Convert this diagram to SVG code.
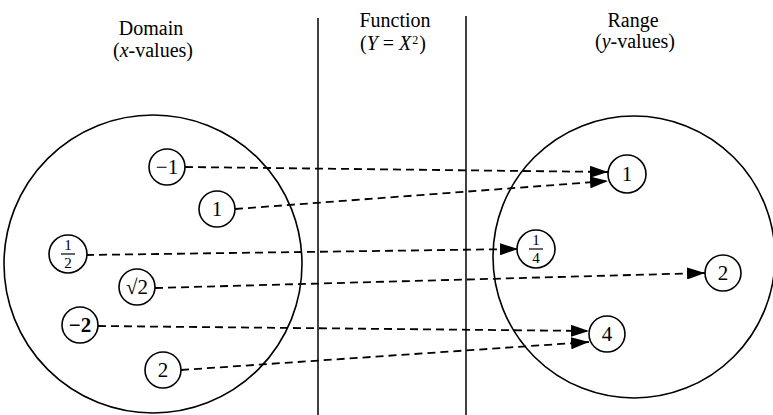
<svg xmlns="http://www.w3.org/2000/svg" width="773" height="415" viewBox="0 0 773 415">
<defs>
<marker id="ah" markerWidth="18" markerHeight="12" refX="18" refY="6" orient="auto" markerUnits="userSpaceOnUse">
<path d="M0,0 L18,6 L0,12 Z" fill="#000"/>
</marker>
<style>
text{font-family:'Liberation Serif','DejaVu Serif',serif;fill:#000;text-anchor:middle}
.t{font-size:20px}
.n{font-size:21px}
.f{font-size:15px}
.c{fill:#fff;stroke:#000;stroke-width:1.6}
.big{fill:none;stroke:#000;stroke-width:1.6}
.e{stroke:#000;stroke-width:1.8;stroke-dasharray:8 5;fill:none;marker-end:url(#ah)}
.v{stroke:#000;stroke-width:1.5}
</style>
</defs>
<rect width="773" height="415" fill="#fff"/>
<g id="headers">
<text class="t" x="151" y="35">Domain</text>
<text class="t" x="153" y="57">(<tspan font-style="italic">x</tspan>-values)</text>
<text class="t" x="395" y="27">Function</text>
<text class="t" x="393" y="50">(<tspan font-style="italic">Y</tspan> = <tspan font-style="italic">X</tspan><tspan font-size="12" dy="-6" dx="1">2</tspan><tspan dy="6" dx="1">)</tspan></text>
<text class="t" x="633" y="27">Range</text>
<text class="t" x="635" y="48">(<tspan font-style="italic">y</tspan>-values)</text>
</g>
<g id="dividers">
<line class="v" x1="318" y1="18" x2="318" y2="415"/>
<line class="v" x1="466" y1="16" x2="466" y2="415"/>
</g>
<g id="domain"><circle class="big" cx="153" cy="264" r="149"/></g>
<g id="range"><circle class="big" cx="634" cy="257" r="141"/></g>
<g id="connectors">
<line class="e" x1="185" y1="167" x2="608" y2="172"/>
<line class="e" x1="235" y1="209" x2="608" y2="181"/>
<line class="e" x1="86" y1="255" x2="518" y2="249"/>
<line class="e" x1="155" y1="288" x2="705" y2="273"/>
<line class="e" x1="98" y1="326" x2="589" y2="331"/>
<line class="e" x1="181" y1="370" x2="589" y2="342"/>
</g>
<g id="x-neg1"><circle class="c" cx="167" cy="167" r="18"/><text class="n" x="167" y="174">−1</text></g>
<g id="x-1"><circle class="c" cx="217" cy="209" r="18"/><text class="n" x="217" y="216">1</text></g>
<g id="x-half"><circle class="c" cx="68" cy="254" r="19"/><text class="f" x="68" y="250">1</text><line x1="61" y1="254" x2="75" y2="254" stroke="#000" stroke-width="1.2"/><text class="f" x="68" y="268">2</text></g>
<g id="x-sqrt2"><circle class="c" cx="137" cy="287" r="18"/><text class="n" x="137" y="294">√2</text></g>
<g id="x-neg2"><circle class="c" cx="80" cy="325" r="18"/><text class="n" x="80" y="332" font-weight="bold">−2</text></g>
<g id="x-2"><circle class="c" cx="163" cy="370" r="18"/><text class="n" x="163" y="377">2</text></g>
<g id="y-1"><circle class="c" cx="627" cy="174" r="19"/><text class="n" x="627" y="181">1</text></g>
<g id="y-quarter"><circle class="c" cx="536" cy="249" r="19"/><text class="f" x="536" y="245">1</text><line x1="529" y1="249" x2="543" y2="249" stroke="#000" stroke-width="1.2"/><text class="f" x="536" y="263">4</text></g>
<g id="y-2"><circle class="c" cx="723" cy="273" r="18"/><text class="n" x="723" y="280">2</text></g>
<g id="y-4"><circle class="c" cx="607" cy="334" r="18"/><text class="n" x="607" y="341">4</text></g>
</svg>
